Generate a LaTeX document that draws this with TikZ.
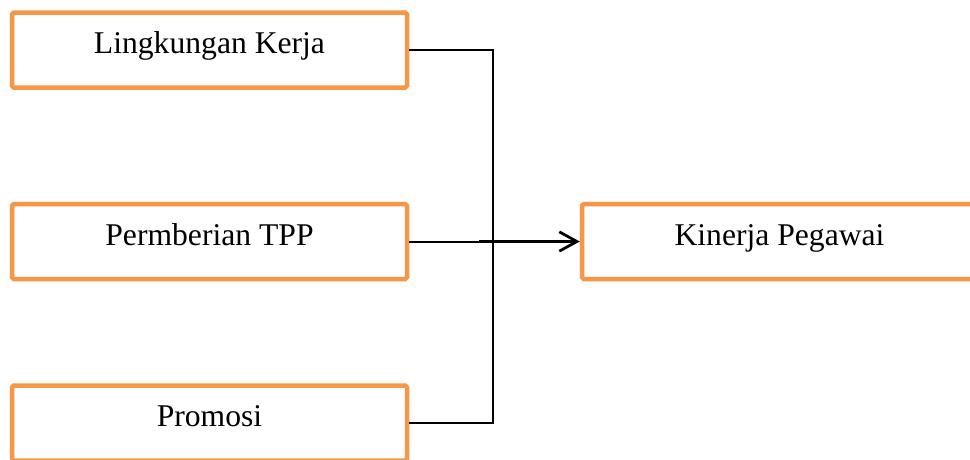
\documentclass[tikz,border=0pt]{standalone}
\usepackage{fontspec}
\setmainfont{Liberation Serif}
\usetikzlibrary{arrows.meta, positioning}
\definecolor{boxorange}{RGB}{247,150,70}
\tikzset{
  varbox/.style={rectangle, rounded corners=1pt, draw=boxorange,
                 line width=0.09cm, fill=white, minimum width=7.9cm,
                 minimum height=1.5cm, text height=0.3cm, text depth=0.16cm,
                 font=\fontsize{18}{21}\selectfont, align=center},
  linkline/.style={line width=0.04cm, color=black},
  arrowstyle/.style={-{Straight Barb[length=10pt, width=11pt]},
                     line width=0.055cm, color=black},
}
\begin{document}
\begin{tikzpicture}
  \useasboundingbox (0,0) rectangle (19.4,-9.18);
  \clip (0,0) rectangle (19.4,-9.18);

  \node[varbox] (lingkungan) at (4.19,-1.0) {Lingkungan Kerja};
  \node[varbox, below=2.24cm of lingkungan] (tpp) {Permberian TPP};
  \node[varbox, below=2.04cm of tpp] (promosi) {Promosi};
  \node[varbox, right=3.41cm of tpp] (kinerja) {Kinerja Pegawai};

  \coordinate (sambung) at (9.86,-4.83);
  \draw[linkline] (lingkungan.east) -| (sambung) |- (promosi.east);
  \draw[linkline] (tpp.east) -- (tpp.east -| sambung);
  \draw[arrowstyle] ([xshift=-0.28cm]tpp.east -| sambung) -- (kinerja.west);
\end{tikzpicture}
\end{document}
